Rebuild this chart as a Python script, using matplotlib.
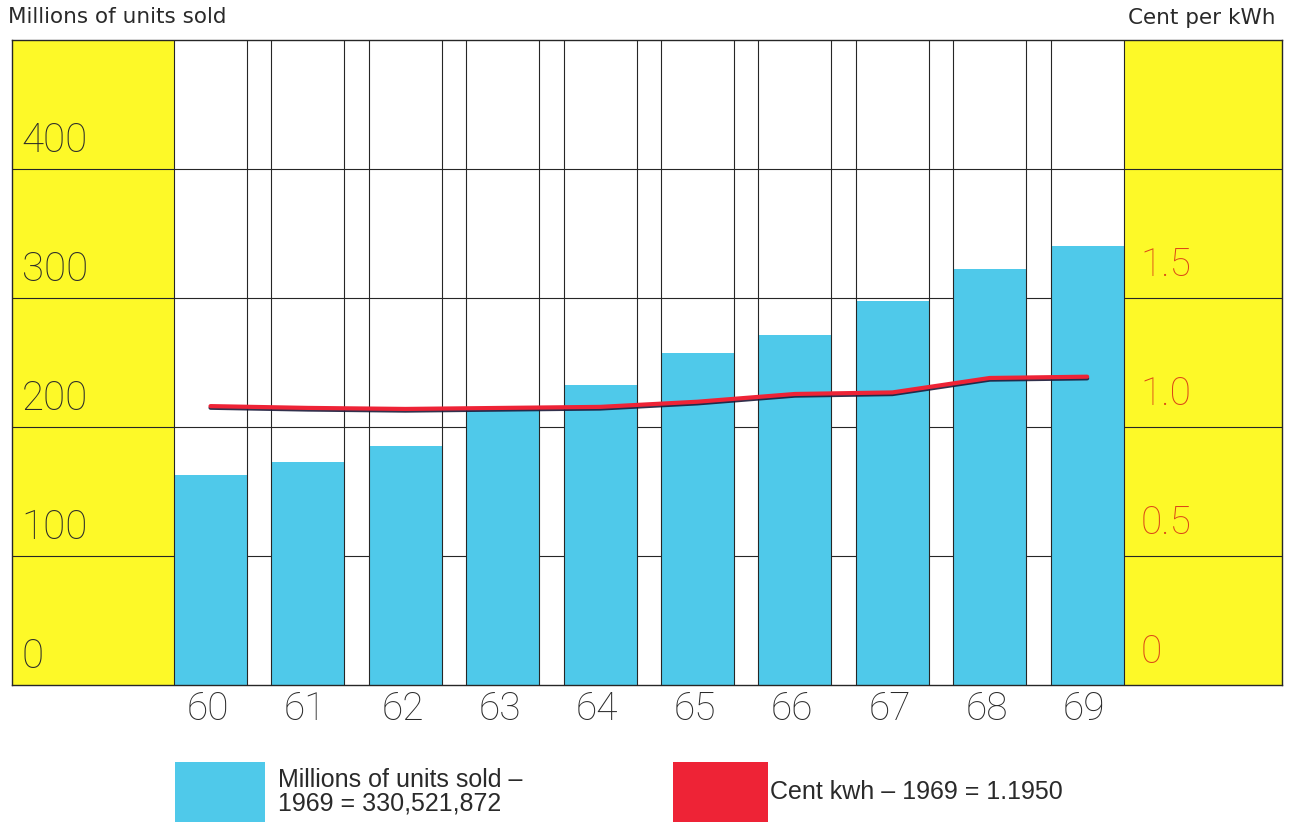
import matplotlib
matplotlib.use("Agg")
import matplotlib.pyplot as plt
import matplotlib.patheffects as pe
from matplotlib.patches import Rectangle

# ─────────────────────────────
# Data
# ─────────────────────────────
years = ["60", "61", "62", "63", "64", "65", "66", "67", "68", "69"]
units_sold = [162.8, 172.9, 184.9, 212.8, 232.6, 257.4, 271.3, 297.3, 322.5, 340.5]  # millions
cent_per_kwh = [1.081, 1.074, 1.070, 1.074, 1.078, 1.098, 1.128, 1.134, 1.190, 1.195]
left_ticks = [0, 100, 200, 300, 400]
right_ticks = [0, 0.5, 1.0, 1.5]
right_tick_labels = ["0", "0.5", "1.0", "1.5"]

# ─────────────────────────────
# Styling
# ─────────────────────────────
YELLOW = "#fdf928"
BLUE = "#4fc9ea"
RED = "#ee2336"
ORANGE = "#dc4616"
GRID = "#262626"
TEXT = "#2a2a2a"
BAR_W = 0.75
NUM_FONT = dict(family=["Roboto", "DejaVu Sans"], fontweight="light")

W, H = 1291, 822
fig = plt.figure(figsize=(W / 100, H / 100), dpi=100)
ax = fig.add_axes([12 / W, (H - 685) / H, 1270 / W, 645 / H])

x = list(range(len(years)))
x_lo, x_hi = -2.038, 11.0
ax.set_xlim(x_lo, x_hi)
ax.set_ylim(0, 500)

# yellow side panels
ax.add_patch(Rectangle((x_lo, 0), -BAR_W / 2 - x_lo, 500, color=YELLOW, zorder=0, lw=0))
ax.add_patch(Rectangle((x[-1] + BAR_W / 2, 0), x_hi - x[-1] - BAR_W / 2, 500,
                       color=YELLOW, zorder=0, lw=0))

# horizontal grid (behind bars)
for v in range(100, 500, 100):
    ax.axhline(v, color=GRID, lw=0.8, zorder=1)

# bars
ax.bar(x, units_sold, width=BAR_W, color=BLUE, zorder=2, lw=0)

# vertical lines along every bar edge
for xi in x:
    for edge in (xi - BAR_W / 2, xi + BAR_W / 2):
        ax.axvline(edge, color=GRID, lw=0.8, zorder=3)

for s in ax.spines.values():
    s.set_color(GRID)
    s.set_linewidth(1.0)
ax.set_xticks([])
ax.set_yticks([])

# left scale labels (sit just above their grid line)
for v in left_ticks:
    ax.annotate(str(v), xy=(x_lo, v), xytext=(7, 12), textcoords="offset points",
                ha="left", va="baseline", fontsize=29, color=TEXT, zorder=5, **NUM_FONT)

# year labels
for xi, lab in zip(x, years):
    ax.annotate(lab, xy=(xi, 0), xycoords=("data", "axes fraction"), xytext=(-2, -25),
                textcoords="offset points", ha="center", va="baseline",
                fontsize=28, color=TEXT, annotation_clip=False, **NUM_FONT)

# price line on the right scale
ax2 = ax.twinx()
ax2.set_ylim(0, 2.5)
ax2.axis("off")
ax2.plot(x, cent_per_kwh, color=RED, lw=3.0, solid_capstyle="round", zorder=6,
         path_effects=[pe.SimpleLineShadow(offset=(0, -1.2), shadow_color="#1a1a3a", alpha=0.9),
                       pe.Normal()])

for v, lab in zip(right_ticks, right_tick_labels):
    ax2.annotate(lab, xy=(x[-1] + BAR_W / 2, v), xytext=(12, 16), textcoords="offset points",
                 ha="left", va="baseline", fontsize=28, color=ORANGE, **NUM_FONT)

# axis headers
fig.text(8 / W, 1 - 23 / H, "Millions of units sold", fontsize=15.5, color=TEXT,
         family="DejaVu Sans", ha="left", va="baseline")
fig.text(1276 / W, 1 - 24 / H, "Cent per kWh", fontsize=15.5, color=TEXT,
         family="DejaVu Sans", ha="right", va="baseline")

# legend
fig.patches.append(Rectangle((175 / W, 0), 90 / W, 60 / H, transform=fig.transFigure,
                             color=BLUE, lw=0))
fig.patches.append(Rectangle((673 / W, 0), 95 / W, 60 / H, transform=fig.transFigure,
                             color=RED, lw=0))
LEG_FONT = dict(family=["Liberation Sans Narrow", "Liberation Sans", "DejaVu Sans"],
                fontsize=18, color=TEXT, va="baseline", ha="left")
fig.text(278 / W, 1 - 787 / H, "Millions of units sold \u2013", **LEG_FONT)
fig.text(278 / W, 1 - 810 / H, "1969 = 330,521,872", **LEG_FONT)
fig.text(770 / W, 1 - 799 / H, "Cent kwh \u2013 1969 = 1.1950", **LEG_FONT)

fig.savefig("out.png", dpi=100)
